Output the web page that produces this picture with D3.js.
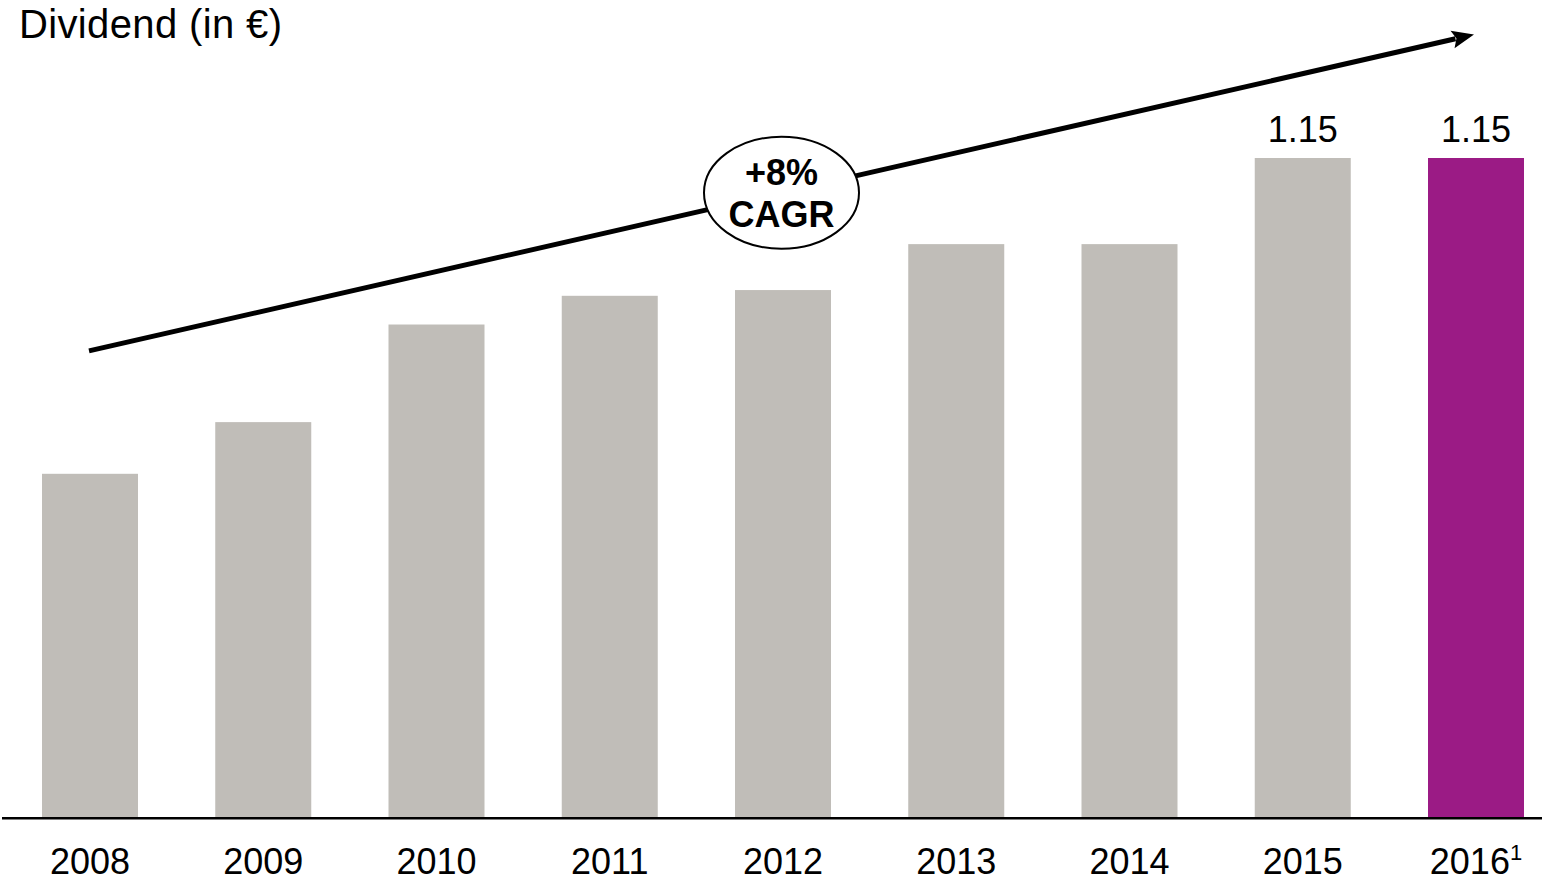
<!DOCTYPE html>
<html>
<head>
<meta charset="utf-8">
<script src="https://cdn.jsdelivr.net/npm/d3@7"></script>
<style>
  html, body { margin: 0; padding: 0; background: #ffffff; }
  svg { display: block; font-family: Arial, "Liberation Sans", sans-serif; }
</style>
</head>
<body>
<svg id="chart" width="1542" height="882"></svg>
<script>
// Dividend per share, in euro
const years = ["2008", "2009", "2010", "2011", "2012", "2013", "2014", "2015", "2016"];
const dividends = [0.60, 0.69, 0.86, 0.91, 0.92, 1.00, 1.00, 1.15, 1.15];
const footnoteMarks = ["", "", "", "", "", "", "", "", "1"];
const labelledYears = ["2015", "2016"];
const highlightYear = "2016";

// Growth annotation: trend arrow from 2008 to 2016, badge sits over 2012
const trendYears = ["2008", "2016"];
const trendValues = [0.814, 1.365];
const badgeYear = "2012";
const badgeLines = ["+8%", "CAGR"];
const axisTitle = "Dividend (in €)";

const W = 1542, H = 882;
const svg = d3.select("#chart");

const x = d3.scaleBand()
  .domain(years)
  .range([42, 1524])
  .paddingInner(0.4459)
  .paddingOuter(0);

const baseY = 818.3;
const y = d3.scaleLinear()
  .domain([0, 1.15])
  .range([baseY, 158]);

const grey = "#c0bdb8";
const purple = "#9b1b85";

// Bars
svg.append("g")
  .selectAll("rect")
  .data(years)
  .join("rect")
  .attr("x", d => x(d))
  .attr("width", x.bandwidth())
  .attr("y", (d, i) => y(dividends[i]))
  .attr("height", (d, i) => baseY - y(dividends[i]))
  .attr("fill", d => d === highlightYear ? purple : grey);

// Baseline
svg.append("line")
  .attr("x1", 2).attr("x2", W)
  .attr("y1", baseY).attr("y2", baseY)
  .attr("stroke", "#000").attr("stroke-width", 2.4);

// Category labels with footnote marks
const xl = svg.append("g")
  .selectAll("text")
  .data(years)
  .join("text")
  .attr("x", d => x(d) + x.bandwidth() / 2)
  .attr("y", 874)
  .attr("text-anchor", "middle")
  .attr("font-size", 36)
  .attr("fill", "#000");
xl.append("tspan").text(d => d);
xl.append("tspan")
  .text((d, i) => footnoteMarks[i])
  .attr("font-size", 22)
  .attr("dy", -14);

// Value labels on the latest bars
svg.append("g")
  .selectAll("text")
  .data(years.filter(d => labelledYears.includes(d)))
  .join("text")
  .attr("x", d => x(d) + x.bandwidth() / 2)
  .attr("y", d => y(dividends[years.indexOf(d)]) - 16)
  .attr("text-anchor", "middle")
  .attr("font-size", 36)
  .attr("fill", "#000")
  .text(d => d3.format(".2f")(dividends[years.indexOf(d)]));

// Axis title
svg.append("text")
  .attr("x", 19).attr("y", 38)
  .attr("font-size", 40)
  .attr("textLength", 263)
  .attr("lengthAdjust", "spacing")
  .attr("fill", "#000")
  .text(axisTitle);

// Trend arrow
const x0 = x(trendYears[0]) + x.bandwidth() / 2 - 1;
const y0 = y(trendValues[0]);
const x1 = x(trendYears[1]) + x.bandwidth() / 2 - 2;
const y1 = y(trendValues[1]);
const ang = Math.atan2(y1 - y0, x1 - x0);
const headLen = 22, headHalf = 9;
const bx = x1 - headLen * Math.cos(ang), by = y1 - headLen * Math.sin(ang);

svg.append("line")
  .attr("x1", x0).attr("y1", y0)
  .attr("x2", bx + 3 * Math.cos(ang)).attr("y2", by + 3 * Math.sin(ang))
  .attr("stroke", "#000").attr("stroke-width", 5);

const nx = -Math.sin(ang), ny = Math.cos(ang);
svg.append("path")
  .attr("d", d3.line()([
    [x1, y1],
    [bx + nx * headHalf, by + ny * headHalf],
    [bx + 4 * Math.cos(ang), by + 4 * Math.sin(ang)],
    [bx - nx * headHalf, by - ny * headHalf]
  ]) + "Z")
  .attr("fill", "#000");

// CAGR badge on the trend line
const cx = x(badgeYear) + x.bandwidth() / 2 - 1.5;
const cy = y0 + (cx - x0) * Math.tan(ang);
svg.append("ellipse")
  .attr("cx", cx).attr("cy", cy)
  .attr("rx", 77.5).attr("ry", 56)
  .attr("fill", "#fff")
  .attr("stroke", "#000").attr("stroke-width", 2);

svg.append("g")
  .selectAll("text")
  .data(badgeLines)
  .join("text")
  .attr("x", cx)
  .attr("y", (d, i) => cy - 8 + i * 42)
  .attr("text-anchor", "middle")
  .attr("font-size", 36)
  .attr("font-weight", "bold")
  .attr("fill", "#000")
  .text(d => d);
</script>
</body>
</html>
